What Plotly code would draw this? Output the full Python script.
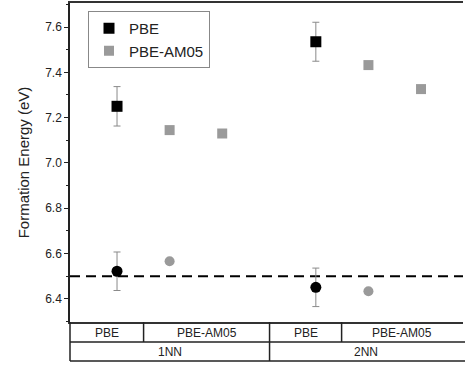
import plotly.graph_objects as go

# ---- data ----
pbe_x = [1, 4.78]
pbe_square = [7.25, 7.535]
pbe_square_err = [0.087, 0.086]
pbe_circle = [6.522, 6.451]
pbe_circle_err = [0.085, 0.085]

am05_square_x = [2, 3, 5.78, 6.78]
am05_square = [7.145, 7.13, 7.432, 7.326]
am05_circle_x = [2, 5.78]
am05_circle = [6.566, 6.434]

reference_energy = 6.50

method_labels = ["PBE", "PBE-AM05", "PBE", "PBE-AM05"]
group_labels = ["1NN", "2NN"]
y_ticks = [6.4, 6.6, 6.8, 7.0, 7.2, 7.4, 7.6]

# ---- layout constants ----
X_RANGE = [0.106, 7.578]
Y_RANGE = [6.298, 7.706]
method_bounds = [0.106, 1.505, 3.90, 5.27, 7.578]
group_bounds = [0.106, 3.90, 7.578]

W, H = 465, 365
ML, MR, MT, MB = 70, 2, 3, 43
PH = H - MT - MB

def px(xv):
    return (xv - X_RANGE[0]) / (X_RANGE[1] - X_RANGE[0])

def py(pix):  # pixel below bottom of plot -> paper y
    return -(pix - (H - MB)) / PH

BLACK = "#000000"
GRAY = "#9a9a9a"
ERR = "#8a8a8a"
FONT = "Liberation Sans, Arial, sans-serif"

fig = go.Figure()

fig.add_trace(go.Scatter(
    x=pbe_x, y=pbe_square, mode="markers", name="PBE",
    marker=dict(symbol="square", size=11, color=BLACK),
    error_y=dict(type="data", array=pbe_square_err, color=ERR, thickness=1, width=3.5),
))
fig.add_trace(go.Scatter(
    x=am05_square_x, y=am05_square, mode="markers", name="PBE-AM05",
    marker=dict(symbol="square", size=10, color=GRAY),
))
fig.add_trace(go.Scatter(
    x=pbe_x, y=pbe_circle, mode="markers", name="PBE", showlegend=False,
    marker=dict(symbol="circle", size=11, color=BLACK),
    error_y=dict(type="data", array=pbe_circle_err, color=ERR, thickness=1, width=3.5),
))
fig.add_trace(go.Scatter(
    x=am05_circle_x, y=am05_circle, mode="markers", name="PBE-AM05", showlegend=False,
    marker=dict(symbol="circle", size=10, color=GRAY),
))

shapes = []
# dashed reference line
shapes.append(dict(type="line", xref="paper", yref="y", x0=0, x1=1,
                   y0=reference_energy, y1=reference_energy,
                   line=dict(color=BLACK, width=2, dash="10px,6px"), layer="below"))

# category table
row1 = py(342)
row2 = py(361)
for yy in [row1, row2]:
    shapes.append(dict(type="line", xref="paper", yref="paper", x0=0, x1=1.01,
                       y0=yy, y1=yy, line=dict(color="#222", width=1.5)))
shapes.append(dict(type="line", xref="paper", yref="paper", x0=0, x1=0,
                   y0=0, y1=row2, line=dict(color="#222", width=1.5)))
for b in method_bounds[1:-1]:
    y_end = row2 if b in group_bounds else row1
    shapes.append(dict(type="line", xref="paper", yref="paper", x0=px(b), x1=px(b),
                       y0=0, y1=y_end, line=dict(color="#222", width=1.5)))

annotations = []
for i, lab in enumerate(method_labels):
    xc = (method_bounds[i] + method_bounds[i + 1]) / 2
    annotations.append(dict(text=lab, xref="paper", yref="paper", x=px(xc), y=py(333),
                            showarrow=False, xanchor="center", yanchor="middle",
                            font=dict(size=12, color="#222", family=FONT)))
for i, lab in enumerate(group_labels):
    xc = (group_bounds[i] + group_bounds[i + 1]) / 2
    annotations.append(dict(text=lab, xref="paper", yref="paper", x=px(xc), y=py(352),
                            showarrow=False, xanchor="center", yanchor="middle",
                            font=dict(size=12, color="#222", family=FONT)))

fig.update_layout(
    width=W, height=H,
    margin=dict(l=ML, r=MR, t=MT, b=MB, autoexpand=False),
    paper_bgcolor="white", plot_bgcolor="white",
    font=dict(family=FONT, color="#222"),
    shapes=shapes, annotations=annotations,
    legend=dict(x=(88 - ML) / (W - ML - MR), y=1 - (11 - MT) / PH,
                xanchor="left", yanchor="top",
                bordercolor="#888", borderwidth=1, bgcolor="white",
                font=dict(size=15, family=FONT, color="#222"),
                tracegroupgap=0, itemwidth=30),
    showlegend=True,
)
fig.update_xaxes(range=X_RANGE, showticklabels=False, ticks="", showgrid=False,
                 zeroline=False, showline=True, linecolor="#333", linewidth=1.5,
                 mirror=True, automargin=False)
fig.update_yaxes(range=Y_RANGE, tickvals=y_ticks, ticktext=[f"{v:.1f}" for v in y_ticks],
                 ticks="outside", ticklen=4, tickwidth=1.2, tickcolor="#222",
                 minor=dict(ticks="outside", ticklen=2, dtick=0.1, tickcolor="#222"),
                 showgrid=False, zeroline=False, showline=True, linecolor="#222",
                 linewidth=1.5, tickfont=dict(size=12, family=FONT, color="#222"),
                 automargin=False,
                 title=dict(text="Formation Energy (eV)", standoff=12,
                            font=dict(size=15, family=FONT, color="#222")))

fig.write_html("out.html", config={"displayModeBar": False},
               post_script="document.body.style.margin='0';document.body.style.padding='0';")
